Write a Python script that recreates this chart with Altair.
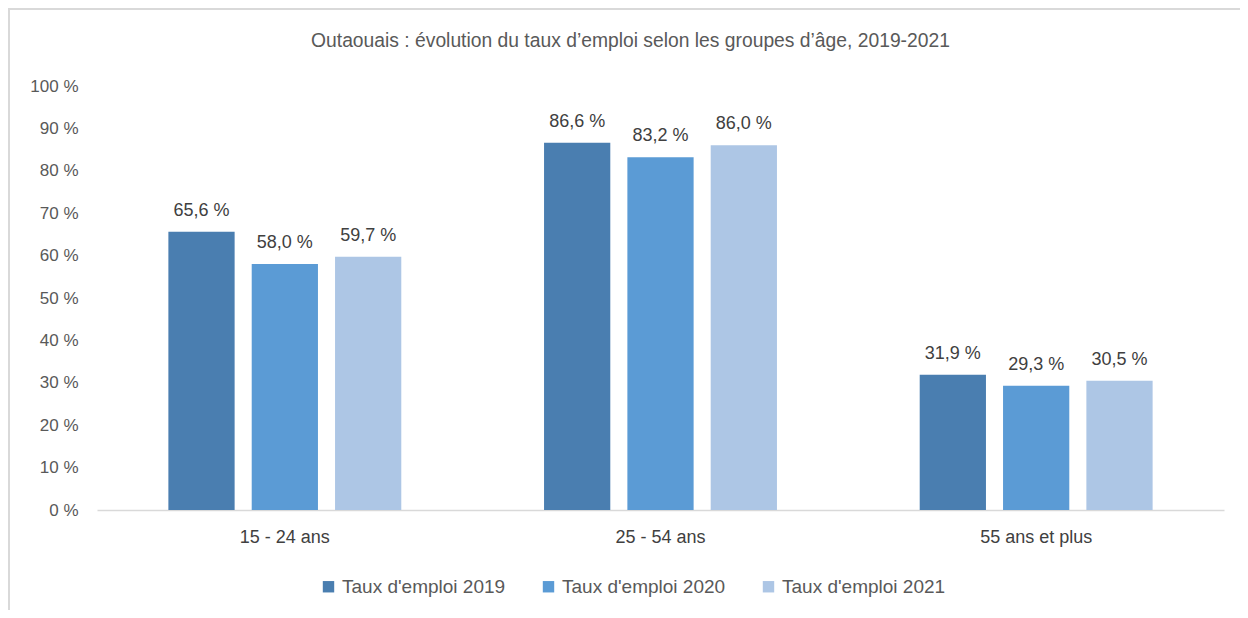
import altair as alt
import pandas as pd

groups = ["15 - 24 ans", "25 - 54 ans", "55 ans et plus"]
series = ["Taux d'emploi 2019", "Taux d'emploi 2020", "Taux d'emploi 2021"]
v2019 = [65.6, 86.6, 31.9]
v2020 = [58.0, 83.2, 29.3]
v2021 = [59.7, 86.0, 30.5]
colors = ["#4a7eb0", "#5b9bd5", "#adc6e5"]
y_ticks = [0, 10, 20, 30, 40, 50, 60, 70, 80, 90, 100]

rows = []
for s, vals in zip(series, [v2019, v2020, v2021]):
    for g, v in zip(groups, vals):
        rows.append({"groupe": g, "serie": s, "valeur": v,
                     "etiquette": f"{v:.1f}".replace(".", ",") + " %"})
df = pd.DataFrame(rows)

W, H = 1127, 424
FONT = "Liberation Sans"

base = alt.Chart(df).encode(
    x=alt.X("groupe:N", sort=groups, title=None,
            scale=alt.Scale(paddingInner=0.38, paddingOuter=0.19),
            axis=alt.Axis(labelAngle=0, ticks=False, labelPadding=18, labelFontSize=18,
                          labelColor="#404040", labelFont=FONT, domainColor="#d9d9d9",
                          domainWidth=1.5, grid=False)),
    xOffset=alt.XOffset("serie:N", sort=series,
                        scale=alt.Scale(paddingInner=0.205, paddingOuter=0)),
)

bars = base.mark_bar().encode(
    y=alt.Y("valeur:Q", title=None,
            scale=alt.Scale(domain=[0, 100], nice=False),
            axis=alt.Axis(values=y_ticks, labelExpr="datum.value + ' %'", ticks=False,
                          domain=False, grid=False, labelPadding=19, labelFontSize=17,
                          labelColor="#595959", labelFont=FONT)),
    color=alt.Color("serie:N", sort=series, title=None,
                    scale=alt.Scale(domain=series, range=colors),
                    legend=alt.Legend(orient="none", direction="horizontal",
                                      legendX=222, legendY=491, symbolType="square",
                                      symbolSize=130, symbolStrokeWidth=0,
                                      labelFontSize=19, labelColor="#595959",
                                      labelFont=FONT, labelLimit=400, columnPadding=33,
                                      symbolOffset=0, labelOffset=4)),
)

labels = base.mark_text(baseline="alphabetic", dy=-16, fontSize=18, color="#404040",
                        font=FONT).encode(
    y=alt.Y("valeur:Q"),
    text="etiquette:N",
)

border_left = alt.Chart(df).mark_rule(color="#d9d9d9", strokeWidth=2).encode(
    x=alt.value(-88), y=alt.value(-78), y2=alt.value(H + 100)
)
border_top = alt.Chart(df).mark_rule(color="#d9d9d9", strokeWidth=2).encode(
    x=alt.value(-89), x2=alt.value(W + 16), y=alt.value(-77)
)

chart = alt.layer(border_left, border_top, bars, labels).properties(
    width=W, height=H,
    title=alt.Title("Outaouais : évolution du taux d’emploi selon les groupes d’âge, 2019-2021",
                    fontSize=19.3, font=FONT, fontWeight="normal", color="#595959",
                    anchor="middle", offset=-44, dx=-30),
    autosize=alt.AutoSizeParams(type="none"),
    padding={"left": 89, "top": 78, "right": 16, "bottom": 100},
).configure_view(stroke=None)

chart.save("out.html", embed_options={"renderer": "svg", "actions": False})
